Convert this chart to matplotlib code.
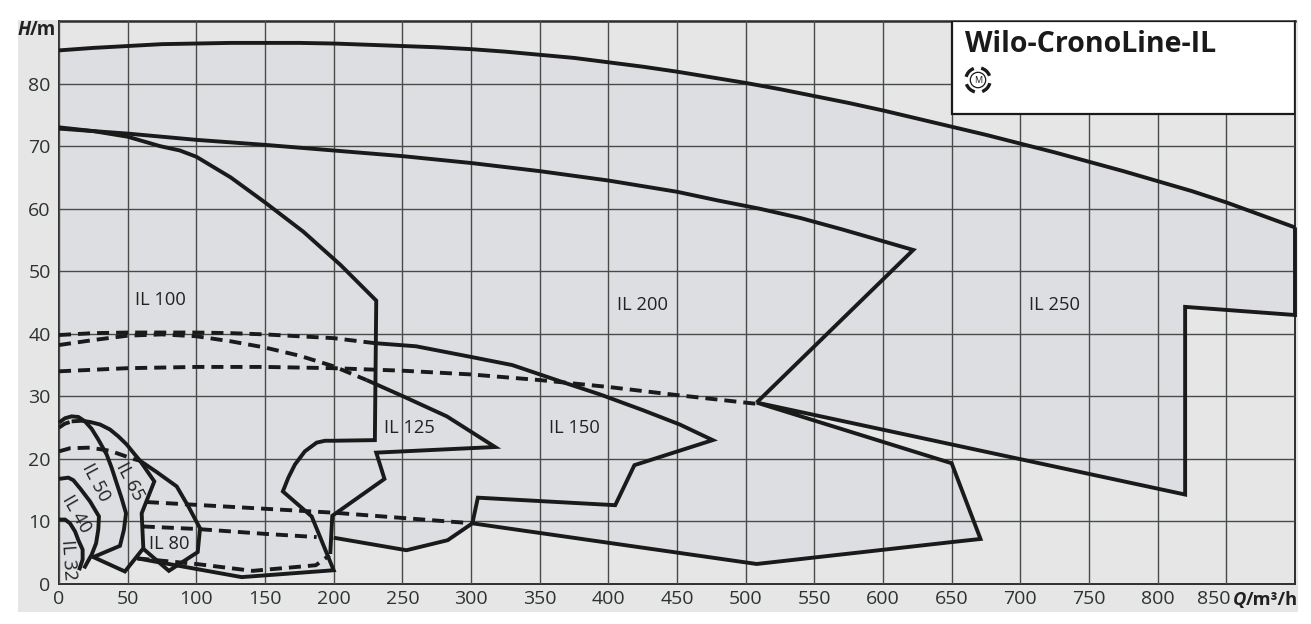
import matplotlib
matplotlib.use("Agg")
import matplotlib.pyplot as plt
from matplotlib.patches import Rectangle, Polygon, Arc, Circle
from matplotlib.transforms import ScaledTranslation

W, H = 1311, 624
plt.rcParams['font.family'] = ['Open Sans', 'DejaVu Sans']

x_ticks = list(range(0, 851, 50))
y_ticks = list(range(0, 81, 10))

top_q = [0, 25, 50, 75, 100, 125, 150, 175, 200, 225, 250, 275, 300, 325, 350, 375, 400, 425, 450, 475, 500, 525, 550,
         575, 600, 625, 650, 675, 700, 725, 750, 775, 800, 825, 850, 875, 900]
top_h = [85.3, 85.7, 86.0, 86.3, 86.4, 86.5, 86.5, 86.5, 86.4, 86.2, 86.0, 85.8, 85.5, 85.1, 84.6, 84.1, 83.4, 82.7,
         81.9, 81.0, 80.1, 79.1, 78.0, 76.9, 75.7, 74.4, 73.1, 71.8, 70.4, 69.0, 67.5, 66.0, 64.4, 62.8, 61.0, 59.0, 57.0]

edge_q = [900, 820, 820, 508, 650, 671, 508, 301, 283, 253, 200, 200, 133, 57, 80, 61, 48, 24, 18, 14.6, 0]
edge_h = [43.0, 44.3, 14.3, 29.0, 19.3, 7.2, 3.2, 9.7, 7.0, 5.4, 7.4, 2.2, 1.1, 4.1, 2.1, 5.7, 2.0, 4.4, 2.5, 2.2, 2.2]

il32_q = [0, 4.4, 8, 11.7, 14.1, 17.2, 17.2, 14.6]
il32_h = [10.3, 10.3, 9.7, 8.4, 7.0, 5.5, 3.9, 2.2]
il40_q = [0, 3.2, 6.8, 10.4, 15.3, 22.6, 29.1, 28.6, 27, 23.8, 18.2]
il40_h = [16.8, 16.9, 17.0, 16.6, 15.3, 13.2, 10.8, 8.7, 6.5, 4.7, 2.5]
il50_q = [0, 4.4, 9.2, 14.1, 18.9, 23.8, 28.6, 34.7, 38.3, 42, 45.6, 48.8, 47.3, 44.4, 25]
il50_h = [25.8, 26.5, 26.8, 26.7, 26.0, 24.8, 23.1, 20.7, 18.6, 16.1, 13.7, 11.3, 8.7, 6.1, 4.3]
il65_q = [9.2, 16.5, 22.6, 29.9, 37.1, 43.2, 49.3, 54.1, 59, 69.4, 60.2, 61.4, 48, 24]
il65_h = [26.0, 26.1, 25.9, 25.5, 24.7, 23.6, 22.3, 21.0, 19.7, 16.4, 11.3, 5.7, 2.0, 4.4]
il65_dash_q = [0, 4, 9.2]
il65_dash_h = [25.0, 25.6, 26.0]
il50_dash_q = [0, 8, 22.6, 37, 54, 59]
il50_dash_h = [21.2, 21.7, 21.8, 21.3, 20.0, 19.7]
il80_q = [59, 71.1, 85.7, 94.2, 102.7, 101, 80, 61]
il80_h = [19.7, 17.9, 15.6, 12.4, 8.9, 5.1, 2.1, 5.7]
il100_q = [57, 133, 200, 184, 163, 167, 171.8, 179, 187.6, 193.7, 200, 230, 231, 205, 178, 150, 125, 100, 88, 73.5, 50, 25, 0]
il100_h = [4.1, 1.1, 2.2, 10.8, 14.8, 17.0, 19.1, 21.2, 22.6, 22.9, 22.9, 23.0, 45.3, 51.0, 56.3, 61.0, 65.0, 68.3, 69.3,
           70.0, 71.5, 72.4, 73.0]
dash_low_q = [57, 100, 141, 187, 197]
dash_low_h = [4.1, 3.2, 2.1, 3.0, 4.6]
dash_mid_q = [61, 100, 151, 187.6]
dash_mid_h = [9.2, 8.8, 8.0, 7.5]
dash_up_q = [64, 200, 301]
dash_up_h = [13.1, 11.4, 9.7]
solid_mid_q = [200, 253, 283, 301, 508, 650, 671, 650, 508, 820, 820, 900, 900]
solid_mid_h = [7.4, 5.4, 7.0, 9.7, 3.2, 6.7, 7.2, 19.3, 29.0, 14.3, 44.3, 43.0, 57.0]
il200_q = [0, 50, 100, 150, 200, 250, 300, 350, 400, 450, 480, 510, 540, 570, 600, 622, 508]
il200_h = [72.8, 72.0, 71.0, 70.2, 69.3, 68.4, 67.3, 66.0, 64.5, 62.7, 61.3, 60.0, 58.5, 56.7, 54.8, 53.4, 29.0]
dash40_q = [0, 25, 50, 75, 100, 125, 150, 175, 200, 230]
dash40_h = [39.8, 40.1, 40.2, 40.2, 40.2, 40.1, 39.9, 39.6, 39.3, 38.5]
il150_q = [230, 260, 300, 330, 365, 394, 425, 452, 476, 419, 405, 305, 301]
il150_h = [38.5, 38.0, 36.3, 35.0, 32.4, 30.3, 27.8, 25.5, 23.0, 19.0, 12.6, 13.8, 9.7]
dash38_q = [0, 25, 50, 75, 100, 125, 150, 175, 200, 224]
dash38_h = [38.2, 39.0, 39.7, 39.9, 39.6, 38.8, 37.8, 36.5, 34.8, 32.6]
il125_q = [224, 250.6, 282.4, 317.5, 231, 237, 199, 197.5]
il125_h = [32.6, 30.0, 26.8, 21.9, 21.0, 16.8, 10.9, 4.8]
dash34_q = [0, 50, 100, 150, 200, 250, 300, 350, 400, 450, 508]
dash34_h = [34.0, 34.5, 34.7, 34.7, 34.5, 34.1, 33.5, 32.6, 31.5, 30.2, 28.8]

labels = ["IL 100", "IL 200", "IL 250", "IL 125", "IL 150", "IL 80", "IL 65", "IL 50", "IL 40", "IL 32"]
label_q = [74, 425, 725, 255, 375, 80, 52, 27, 13, 6.5]
label_h = [45.4, 44.6, 44.6, 25.0, 25.0, 6.4, 16.4, 16.3, 11.2, 3.8]
label_rot = [0, 0, 0, 0, 0, 0, -62, -62, -60, -86]

fig = plt.figure(figsize=(W / 100, H / 100), dpi=100, facecolor='white')

def rect(l, t, r, b):
    return [l / W, 1 - b / H, (r - l) / W, (b - t) / H]

fig.patches.append(Rectangle((18 / W, 1 - 612 / H), 1280 / W, 592 / H, transform=fig.transFigure,
                             facecolor='#e6e6e6', edgecolor='none', zorder=-5))

ax = fig.add_axes(rect(59, 21, 1295, 584))
ax.set_facecolor('#e6e6e6')
ax.set_xlim(0, 900)
ax.set_ylim(0, 90)

poly = list(zip(top_q, top_h)) + list(zip(edge_q, edge_h))
ax.add_patch(Polygon(poly, closed=True, facecolor='#dddee1', edgecolor='none', zorder=1))

ax.set_xticks(x_ticks)
ax.set_yticks(y_ticks)
ax.set_xticklabels([str(v) for v in x_ticks])
ax.grid(True, color='#474c49', lw=1.0, zorder=2)
ax.set_axisbelow(False)
ax.tick_params(length=0, labelsize=14, labelcolor='#2c332e')
ax.tick_params(axis='x', pad=4)
ax.tick_params(axis='y', pad=6)
ax.get_xticklabels()[-1].set_transform(ax.get_xticklabels()[-1].get_transform()
                                       + ScaledTranslation(-13 / 100, 0, fig.dpi_scale_trans))
for s in ax.spines.values():
    s.set_color('#2c2f2d')
    s.set_linewidth(1.4)
ax.spines['top'].set_linewidth(1.8)

solid = dict(color='#1a1a1a', lw=2.8, solid_joinstyle='miter', solid_capstyle='butt', zorder=4)
dashed = dict(color='#1a1a1a', lw=2.8, dashes=(3.1, 1.8), dash_capstyle='butt', zorder=4)
for q, h in [(il32_q, il32_h), (il40_q, il40_h), (il50_q, il50_h), (il65_q, il65_h), (il80_q, il80_h),
             (il100_q, il100_h), (solid_mid_q, solid_mid_h), (il200_q, il200_h), (il150_q, il150_h),
             (il125_q, il125_h), (top_q, top_h)]:
    ax.plot(q, h, clip_on=False, **solid)
for q, h in [(il65_dash_q, il65_dash_h), (il50_dash_q, il50_dash_h), (dash_low_q, dash_low_h),
             (dash_mid_q, dash_mid_h), (dash_up_q, dash_up_h), (dash40_q, dash40_h),
             (dash38_q, dash38_h), (dash34_q, dash34_h)]:
    ax.plot(q, h, **dashed)

for t, q, h, r in zip(labels, label_q, label_h, label_rot):
    ax.text(q, h, t, fontsize=13.2, color='#222222', rotation=r, ha='center', va='center',
            rotation_mode='anchor', zorder=5)

ax.add_patch(Rectangle((650, 75.2), 250, 14.8, facecolor='white', edgecolor='#1a1a1a', lw=1.6, zorder=6))
ax.text(659.5, 86.2, "Wilo-CronoLine-IL", fontsize=20.5, fontweight='bold', color='#1a1a1a',
        ha='left', va='center', zorder=7)

fig.text(18 / W, 1 - 30 / H, "H", fontsize=13.5, fontweight='bold', style='italic', color='#222222', ha='left', va='center')
fig.text(30 / W, 1 - 30 / H, "/m", fontsize=13.5, fontweight='bold', color='#222222', ha='left', va='center')
fig.text(1233 / W, 1 - 600 / H, "Q", fontsize=13.2, fontweight='bold', style='italic', color='#222222', ha='left', va='center')
fig.text(1246 / W, 1 - 600 / H, "/m³/h", fontsize=13.2, fontweight='bold', color='#222222', ha='left', va='center')

icon = fig.add_axes(rect(964, 66, 992, 94))
icon.set_xlim(-1, 1)
icon.set_ylim(-1, 1)
icon.set_aspect('equal')
icon.axis('off')
for a in (20, 110, 200, 290):
    icon.add_patch(Arc((0, 0), 1.75, 1.75, theta1=a, theta2=a + 55, color='#1a1a1a', lw=2.4))
icon.add_patch(Circle((0, 0), 0.55, fill=False, edgecolor='#1a1a1a', lw=0.9))
icon.text(0, -0.02, "M", fontsize=6.5, ha='center', va='center', color='#1a1a1a')

fig.savefig("out.png", dpi=100, facecolor='white')
